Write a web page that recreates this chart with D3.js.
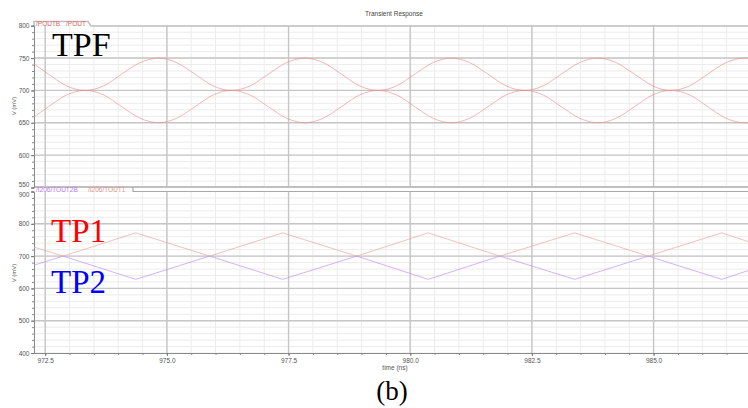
<!DOCTYPE html>
<html><head><meta charset="utf-8">
<script src="https://cdn.jsdelivr.net/npm/d3@7"></script>
<style>body{margin:0;background:#fff}svg{display:block}</style>
</head><body>
<svg id="c" width="748" height="408"></svg>
<script>
// ---- data ----
const timeDomain = [972.27, 986.94];
const xTickValues = [972.5, 975.0, 977.5, 980.0, 982.5, 985.0];
const topYTicks = [550, 600, 650, 700, 750, 800];
const botYTicks = [400, 500, 600, 700, 800, 900];

// top panel (TPF): /POUT and /POUTB
const tpfTime = [972.27,972.57,972.94,973.32,973.70,974.07,974.45,974.83,975.20,975.58,975.95,976.33,976.71,977.08,977.46,977.84,978.21,978.59,978.96,979.34,979.72,980.09,980.47,980.85,981.22,981.60,981.97,982.35,982.73,983.10,983.48,983.86,984.23,984.61,984.98,985.36,985.74,986.11,986.49,986.87,986.94];
const pout  = [741,725,707,700,707,725,743,750,743,725,707,700,707,725,743,750,743,725,707,700,707,725,743,750,743,725,707,700,707,725,743,750,743,725,707,700,707,725,743,750,750];
const poutb = [659,675,693,700,693,675,657,650,657,675,693,700,693,675,657,650,657,675,693,700,693,675,657,650,657,675,693,700,693,675,657,650,657,675,693,700,693,675,657,650,650];

// bottom panel: /I206/TOUT1 (TP1) and /I206/TOUT2B (TP2)
const tpTime = [972.27,972.87,974.36,975.88,977.38,978.90,980.37,981.84,983.38,984.89,986.40,986.94];
const tout1  = [728,700,772,700,772,700,772,700,772,700,772,745];
const tout2b = [672,700,628,700,628,700,628,700,628,700,628,655];

// ---- drawing ----
const svg = d3.select("#c");
const L = 34, R = 748;
const x = d3.scaleLinear().domain(timeDomain).range([L, R]);
const yT = d3.scaleLinear().domain([550, 800]).range([187.5, 25.7]);
const yB = d3.scaleLinear().domain([400, 900]).range([353, 191.5]);
const font = "'Liberation Sans', Arial, sans-serif";

function grid(g, y, y0, y1, minorStep, majors) {
  const minorX = d3.range(972.5, 987.0, 0.5);
  const minorY = d3.range(y.domain()[0], y.domain()[1] + 0.01, minorStep);
  g.selectAll(".mx").data(minorX).join("line").attr("class","mx")
    .attr("x1", d => x(d)).attr("x2", d => x(d)).attr("y1", y(y1)).attr("y2", y(y0))
    .attr("stroke", "#ececec").attr("stroke-width", 1);
  g.selectAll(".my").data(minorY).join("line").attr("class","my")
    .attr("x1", L).attr("x2", R).attr("y1", d => y(d)).attr("y2", d => y(d))
    .attr("stroke", "#ececec").attr("stroke-width", 1);
  g.selectAll(".Mx").data(xTickValues).join("line").attr("class","Mx")
    .attr("x1", d => x(d)).attr("x2", d => x(d)).attr("y1", y(y1)).attr("y2", y(y0))
    .attr("stroke", "#c6c6c6").attr("stroke-width", 1.4);
  g.selectAll(".My").data(majors).join("line").attr("class","My")
    .attr("x1", L).attr("x2", R).attr("y1", d => y(d)).attr("y2", d => y(d))
    .attr("stroke", "#c6c6c6").attr("stroke-width", 1.4);
}

// title
svg.append("text").attr("x", 394).attr("y", 16).attr("text-anchor", "middle")
  .attr("font-family", font).attr("font-size", 6.5).attr("fill", "#444").text("Transient Response");

grid(svg.append("g"), yT, 550, 800, 10, [600, 650, 700, 750]);
grid(svg.append("g"), yB, 400, 900, 20, [500, 600, 700, 800]);

// borders
svg.append("path").attr("d", `M${L},26 L${L},21.5 L88,21.5 L91,26 L${R},26`)
  .attr("fill", "none").attr("stroke", "#c0c0c0").attr("stroke-width", 1.5);
svg.append("line").attr("x1", L).attr("x2", R).attr("y1", 187).attr("y2", 187)
  .attr("stroke", "#c0c0c0").attr("stroke-width", 2);
svg.append("rect").attr("x", L).attr("y", 188).attr("width", 99).attr("height", 3.5).attr("fill", "#fff");
svg.append("path").attr("d", `M133,187 L133,191.5 L${R},191.5`)
  .attr("fill", "none").attr("stroke", "#a8a8a8").attr("stroke-width", 1.2);

// axes
function yAxis(y, ticks, minorStep, nudge) {
  const g = svg.append("g").attr("transform", `translate(${L},0)`);
  g.call(d3.axisLeft(y).tickValues(d3.range(y.domain()[0], y.domain()[1] + 0.01, minorStep)).tickSize(2).tickFormat(""))
    .call(a => a.select(".domain").remove())
    .selectAll("line").attr("stroke", "#888");
  const g2 = svg.append("g").attr("transform", `translate(${L},0)`);
  g2.call(d3.axisLeft(y).tickValues(ticks).tickSize(3).tickPadding(1.5))
    .call(a => a.select(".domain").attr("stroke", "#8a8a8a"))
    .call(a => a.selectAll("line").attr("stroke", "#777"))
    .call(a => a.selectAll("text").attr("font-family", font).attr("font-size", 6.5).attr("fill", "#555"))
    .call(a => a.selectAll(".tick text").attr("dy", d => nudge(d)));
}
yAxis(yT, topYTicks, 10, d => d === 550 ? "-0.1em" : "0.32em");
yAxis(yB, botYTicks, 20, d => d === 900 ? "0.75em" : "0.32em");

svg.append("g").attr("transform", `translate(0,353)`)
  .call(d3.axisBottom(x).tickValues(d3.range(972.5, 987.0, 0.5)).tickSize(2).tickFormat(""))
  .call(a => a.select(".domain").remove()).selectAll("line").attr("stroke", "#888");
svg.append("g").attr("transform", `translate(0,353)`)
  .call(d3.axisBottom(x).tickValues(xTickValues).tickSize(3).tickPadding(2).tickFormat(d3.format(".1f")))
  .call(a => a.select(".domain").attr("stroke", "#8a8a8a").attr("d", `M${L},0.5H${R}`))
  .call(a => a.selectAll("line").attr("stroke", "#777"))
  .call(a => a.selectAll("text").attr("font-family", font).attr("font-size", 6.5).attr("fill", "#555"));

// axis labels
svg.append("text").attr("transform", "translate(16,106) rotate(-90)").attr("text-anchor", "middle")
  .attr("font-family", font).attr("font-size", 6).attr("fill", "#555").text("V (mV)");
svg.append("text").attr("transform", "translate(16,273) rotate(-90)").attr("text-anchor", "middle")
  .attr("font-family", font).attr("font-size", 6).attr("fill", "#555").text("V (mV)");
svg.append("text").attr("x", 395).attr("y", 370).attr("text-anchor", "middle")
  .attr("font-family", font).attr("font-size", 6.5).attr("fill", "#555").text("time (ns)");

// legends
svg.append("text").attr("x", 36).attr("y", 26).attr("font-family", font).attr("font-size", 6.5)
  .attr("fill", "#e26a6a").text("/POUTB");
svg.append("text").attr("x", 66).attr("y", 26).attr("font-family", font).attr("font-size", 6.5)
  .attr("fill", "#e26a6a").text("/POUT");
svg.append("text").attr("x", 36).attr("y", 192).attr("font-family", font).attr("font-size", 6.5)
  .attr("fill", "#b77cf0").text("/I206/TOUT2B");
svg.append("text").attr("x", 88).attr("y", 192).attr("font-family", font).attr("font-size", 6.5)
  .attr("fill", "#e0948a").text("/I206/TOUT1");

// lines
const lineT = d3.line().x(d => x(d[0])).y(d => yT(d[1])).curve(d3.curveMonotoneX);
const lineB = d3.line().x(d => x(d[0])).y(d => yB(d[1]));
svg.append("path").datum(d3.zip(tpfTime, poutb)).attr("d", lineT)
  .attr("fill", "none").attr("stroke", "#f08a8a").attr("stroke-width", 0.9).attr("stroke-opacity", 0.7);
svg.append("path").datum(d3.zip(tpfTime, pout)).attr("d", lineT)
  .attr("fill", "none").attr("stroke", "#ee8888").attr("stroke-width", 0.9).attr("stroke-opacity", 0.7);
svg.append("path").datum(d3.zip(tpTime, tout2b)).attr("d", lineB)
  .attr("fill", "none").attr("stroke", "#c58af2").attr("stroke-width", 0.9).attr("stroke-opacity", 0.75);
svg.append("path").datum(d3.zip(tpTime, tout1)).attr("d", lineB)
  .attr("fill", "none").attr("stroke", "#e8a498").attr("stroke-width", 0.9).attr("stroke-opacity", 0.75);

// big labels
const serif = "'Liberation Serif', 'Times New Roman', serif";
svg.append("text").attr("x", 52).attr("y", 56).attr("font-family", serif).attr("font-size", 34)
  .attr("fill", "#000").text("TPF");
svg.append("text").attr("x", 51).attr("y", 242).attr("font-family", serif).attr("font-size", 33)
  .attr("fill", "#ff0000").text("TP1");
svg.append("text").attr("x", 51).attr("y", 293).attr("font-family", serif).attr("font-size", 33)
  .attr("fill", "#0000ff").text("TP2");
svg.append("text").attr("x", 392).attr("y", 400).attr("text-anchor", "middle").attr("font-family", serif)
  .attr("font-size", 27).attr("fill", "#000").text("(b)");
</script>
</body></html>
